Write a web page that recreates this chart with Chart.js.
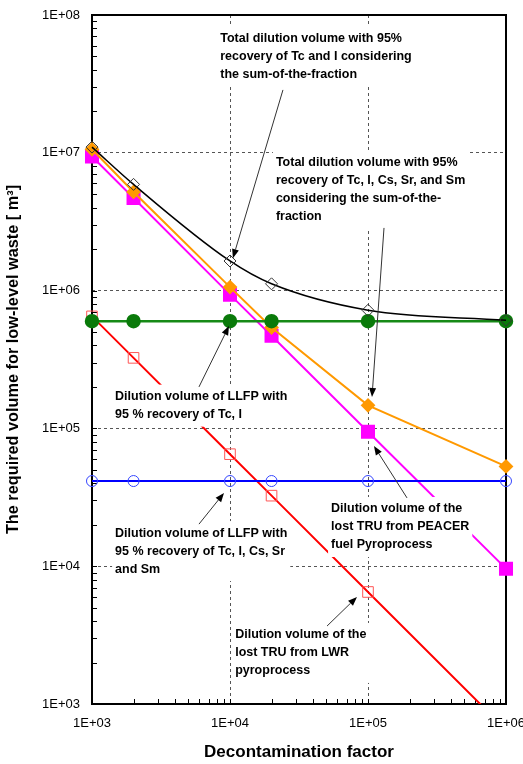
<!DOCTYPE html>
<html>
<head>
<meta charset="utf-8">
<script src="https://cdn.jsdelivr.net/npm/chart.js@4.4.0/dist/chart.umd.min.js"></script>
<style>
  html, body { margin: 0; padding: 0; background: #fff; }
  #wrap { width: 523px; height: 764px; }
</style>
</head>
<body>
<div id="wrap"><canvas id="myChart" width="523" height="764"></canvas></div>
<script>
// decontamination factor (x)
const factors = [1e3, 2e3, 1e4, 2e4, 1e5, 1e6];

// required volume, m3
const totalTcI = [1.1e7, 5.9e6, 1.64e6, 1.12e6, 7.2e5, 6.1e5];
const totalTcICsSrSm = [1.06e7, 5.2e6, 1.06e6, 5.4e5, 1.47e5, 5.3e4];
const llfpTcI = [6.0e5, 6.0e5, 6.0e5, 6.0e5, 6.0e5, 6.0e5];
const llfpTcICsSrSm = [4.15e4, 4.15e4, 4.15e4, 4.15e4, 4.15e4, 4.15e4];
const peacerTru = [9.4e6, 4.7e6, 9.35e5, 4.7e5, 9.45e4, 9.6e3];
const lwrTru = [6.5e5, 3.25e5, 6.5e4, 3.25e4, 6.5e3, 6.5e2];

// tick labels (decades)
const xDecades = [1e3, 1e4, 1e5, 1e6];
const xTickLabels = ['1E+03', '1E+04', '1E+05', '1E+06'];
const yDecades = [1e3, 1e4, 1e5, 1e6, 1e7, 1e8];
const yTickLabels = ['1E+03', '1E+04', '1E+05', '1E+06', '1E+07', '1E+08'];

// callout texts, anchored in data coordinates
const notes = [
  { lines: ['Total dilution volume with 95%', 'recovery of Tc and I considering', 'the sum-of-the-fraction'],
    at: [8.5e3, 6.8e7], from: [2.42e4, 2.86e7], to: [1.05e4, 1.72e6] },
  { lines: ['Total dilution volume with 95%', 'recovery of Tc, I, Cs, Sr, and Sm', 'considering the sum-of-the-', 'fraction'],
    at: [2.15e4, 8.43e6], from: [1.306e5, 2.85e6], to: [1.069e5, 1.69e5] },
  { lines: ['Dilution volume of LLFP with', '95 % recovery of Tc, I'],
    at: [1.47e3, 1.70e5], from: [5.96e3, 2.0e5], to: [9.83e3, 5.53e5] },
  { lines: ['Dilution volume of LLFP with', '95 % recovery of Tc, I, Cs, Sr', 'and Sm'],
    at: [1.47e3, 1.74e4], from: [5.96e3, 2.02e4], to: [9.05e3, 3.40e4] },
  { lines: ['Dilution volume of the', 'lost TRU from PEACER', 'fuel Pyroprocess'],
    at: [5.4e4, 2.6e4], from: [1.917e5, 3.13e4], to: [1.105e5, 7.45e4] },
  { lines: ['Dilution volume of the', 'lost TRU from LWR', 'pyroprocess'],
    at: [1.09e4, 3.17e3], from: [5.05e4, 3.68e3], to: [8.32e4, 5.98e3] }
];

const FONT = 'Arial, "Liberation Sans", sans-serif';
Chart.defaults.font.family = FONT;

const isDecade = v => Math.abs(Math.log10(v) - Math.round(Math.log10(v))) < 1e-9;
const logTicks = (min, max) => {
  const t = [];
  for (let e = Math.round(Math.log10(min)); e < Math.round(Math.log10(max)); e++) {
    for (let m = 1; m < 10; m++) t.push({ value: m * Math.pow(10, e) });
  }
  t.push({ value: max });
  return t;
};
const pts = ys => factors.map((x, i) => ({ x: x, y: ys[i] }));
const gridColor = ctx => (ctx.tick && isDecade(ctx.tick.value)) ? '#555' : 'rgba(0,0,0,0)';
const clipBox = { left: 10, right: 10, top: 10, bottom: 0 };

// frame + small inward ticks on left and bottom
const framePlugin = {
  id: 'frame',
  beforeDatasetsDraw(chart) {
    const { ctx, chartArea: a, scales } = chart;
    ctx.save();
    ctx.strokeStyle = '#000';
    ctx.lineWidth = 1;
    ctx.beginPath();
    scales.y.ticks.forEach(t => {
      const y = Math.round(scales.y.getPixelForValue(t.value)) + 0.5;
      ctx.moveTo(a.left, y); ctx.lineTo(a.left + 5, y);
    });
    scales.x.ticks.forEach(t => {
      const x = Math.round(scales.x.getPixelForValue(t.value)) + 0.5;
      ctx.moveTo(x, a.bottom); ctx.lineTo(x, a.bottom - 5);
    });
    ctx.stroke();
    ctx.lineWidth = 2;
    ctx.strokeRect(a.left, a.top, a.right - a.left, a.bottom - a.top);
    ctx.restore();
  }
};

// white-backed callout texts with arrows
const notesPlugin = {
  id: 'notes',
  afterDatasetsDraw(chart) {
    const { ctx, scales } = chart;
    const px = v => scales.x.getPixelForValue(v);
    const py = v => scales.y.getPixelForValue(v);
    const lh = 18;
    ctx.save();
    ctx.font = 'bold 12.5px ' + FONT;
    notes.forEach(n => {
      const x = px(n.at[0]), y = py(n.at[1]);
      const w = Math.max(...n.lines.map(s => ctx.measureText(s).width));
      ctx.fillStyle = '#fff';
      ctx.fillRect(x - 3, y - 12, w + 6, (n.lines.length - 1) * lh + 24);
      ctx.fillStyle = '#000';
      ctx.textBaseline = 'middle';
      n.lines.forEach((s, i) => ctx.fillText(s, x, y + i * lh));
    });
    notes.forEach(n => {
      const x1 = px(n.from[0]), y1 = py(n.from[1]);
      const x2 = px(n.to[0]), y2 = py(n.to[1]);
      const ang = Math.atan2(y2 - y1, x2 - x1);
      const hl = 9, hw = 3.5;
      ctx.strokeStyle = '#333';
      ctx.lineWidth = 1;
      ctx.beginPath();
      ctx.moveTo(x1, y1);
      ctx.lineTo(x2 - Math.cos(ang) * hl, y2 - Math.sin(ang) * hl);
      ctx.stroke();
      ctx.fillStyle = '#000';
      ctx.beginPath();
      ctx.moveTo(x2, y2);
      ctx.lineTo(x2 - Math.cos(ang) * hl - Math.sin(ang) * hw, y2 - Math.sin(ang) * hl + Math.cos(ang) * hw);
      ctx.lineTo(x2 - Math.cos(ang) * hl + Math.sin(ang) * hw, y2 - Math.sin(ang) * hl - Math.cos(ang) * hw);
      ctx.closePath();
      ctx.fill();
    });
    ctx.restore();
  }
};

new Chart(document.getElementById('myChart'), {
  type: 'line',
  data: {
    datasets: [
      { label: 'Total (Tc, I)', data: pts(totalTcI), borderColor: '#000', borderWidth: 1.5,
        cubicInterpolationMode: 'monotone', pointStyle: 'rectRot', pointRadius: 6,
        pointBorderColor: '#333', pointBorderWidth: 1, pointBackgroundColor: 'rgba(0,0,0,0)', clip: clipBox },
      { label: 'LLFP (Tc, I)', data: pts(llfpTcI), borderColor: '#168a16', borderWidth: 2.5,
        pointStyle: 'circle', pointRadius: 6, pointBorderColor: '#0a7a0a', pointBackgroundColor: '#0a7a0a', clip: clipBox },
      { label: 'LLFP (Tc, I, Cs, Sr, Sm)', data: pts(llfpTcICsSrSm), borderColor: '#0000ff', borderWidth: 2,
        pointStyle: 'circle', pointRadius: 5.5, pointBorderColor: '#3344ff', pointBorderWidth: 1,
        pointBackgroundColor: 'rgba(0,0,0,0)', clip: clipBox },
      { label: 'Total (Tc, I, Cs, Sr, Sm)', data: pts(totalTcICsSrSm), borderColor: '#ff9900', borderWidth: 2,
        pointStyle: 'rectRot', pointRadius: 6, pointBorderColor: '#ff9900', pointBackgroundColor: '#ff9900', clip: clipBox },
      { label: 'PEACER TRU', data: pts(peacerTru), borderColor: '#ff00ff', borderWidth: 2,
        pointStyle: 'rect', pointRadius: 8.5, pointBorderColor: '#ff00ff', pointBackgroundColor: '#ff00ff', clip: clipBox },
      { label: 'LWR TRU', data: pts(lwrTru), borderColor: '#ff0000', borderWidth: 2,
        pointStyle: 'rect', pointRadius: 7.5, pointBorderColor: '#ff5555', pointBorderWidth: 1,
        pointBackgroundColor: 'rgba(0,0,0,0)', clip: clipBox }
    ]
  },
  options: {
    responsive: false,
    animation: false,
    devicePixelRatio: 1,
    events: [],
    layout: { padding: { top: 15, right: 17, bottom: 0, left: 0 } },
    plugins: { legend: { display: false }, tooltip: { enabled: false } },
    scales: {
      x: {
        type: 'logarithmic', min: 1e3, max: 1e6,
        afterBuildTicks: s => { s.ticks = logTicks(1e3, 1e6); },
        afterFit: s => { s.height = 60; s.paddingLeft = 0; s.paddingRight = 0; },
        ticks: { autoSkip: false, maxRotation: 0, padding: 12, color: '#000', font: { size: 13 },
          callback: v => isDecade(v) ? xTickLabels[xDecades.findIndex(d => Math.abs(d - v) < d * 1e-6)] : '' },
        grid: { drawTicks: false, color: gridColor, lineWidth: 1 },
        border: { display: false, dash: [3, 3] },
        title: { display: true, text: 'Decontamination factor', color: '#000',
          font: { size: 17, weight: 'bold' }, padding: { top: 0, bottom: 1 } }
      },
      y: {
        type: 'logarithmic', min: 1e3, max: 1e8,
        afterBuildTicks: s => { s.ticks = logTicks(1e3, 1e8); },
        afterFit: s => { s.width = 92; s.paddingTop = 0; s.paddingBottom = 0; },
        ticks: { autoSkip: false, padding: 12, color: '#000', font: { size: 13 },
          callback: v => isDecade(v) ? yTickLabels[yDecades.findIndex(d => Math.abs(d - v) < d * 1e-6)] : '' },
        grid: { drawTicks: false, color: gridColor, lineWidth: 1 },
        border: { display: false, dash: [3, 3] },
        title: { display: true, text: 'The required volume for low-level waste [ m\u00B3]', color: '#000',
          font: { size: 16.3, weight: 'bold' }, padding: { top: 4, bottom: 0 } }
      }
    }
  },
  plugins: [framePlugin, notesPlugin]
});
</script>
</body>
</html>
